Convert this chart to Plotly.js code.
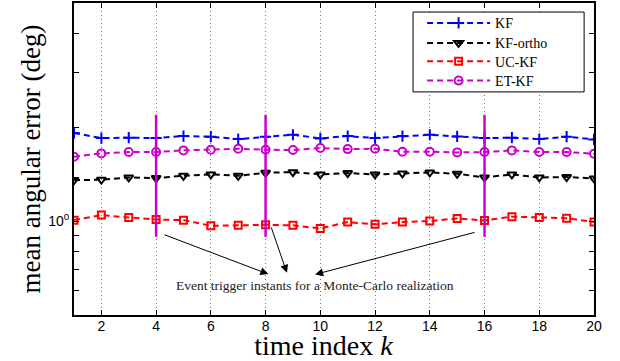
<!DOCTYPE html>
<html>
<head>
<meta charset="utf-8">
<script src="https://cdn.plot.ly/plotly-3.0.1.min.js"></script>
<style>html,body{margin:0;padding:0;background:#fff;}#chart{width:620px;height:361px;}</style>
</head>
<body>
<div id="chart"></div>
<script>
const timeIndex = [1,2,3,4,5,6,7,8,9,10,11,12,13,14,15,16,17,18,19,20];
const kf = [1.915,1.845,1.850,1.845,1.873,1.864,1.831,1.864,1.891,1.841,1.873,1.845,1.873,1.891,1.868,1.845,1.850,1.831,1.864,1.827];
const kfOrtho = [1.353,1.357,1.380,1.374,1.397,1.411,1.397,1.428,1.435,1.411,1.425,1.411,1.421,1.432,1.418,1.380,1.411,1.380,1.384,1.370];
const ucKf = [1.007,1.045,1.027,1.012,1.007,0.966,0.969,0.973,0.969,0.947,0.993,0.976,0.993,1.000,1.020,1.005,1.033,1.027,1.022,0.993];
const etKf = [1.608,1.648,1.664,1.664,1.685,1.693,1.705,1.693,1.689,1.714,1.701,1.705,1.668,1.668,1.660,1.664,1.685,1.664,1.664,1.644];
const eventInstants = [4, 8, 16];
const eventRange = [0.89, 2.19];
const xTicks = [2,4,6,8,10,12,14,16,18,20];
const yTickVals = [0.5,0.6,0.7,0.8,0.9,1,2,3,4,5];
const yTickText = ['','','','','','10<sup>0</sup>','','','',''];
const seriesNames = ['KF','KF-ortho','UC-KF','ET-KF'];
const annotationText = 'Event trigger instants for a Monte-Carlo realization';

const serif = 'Liberation Serif, Times New Roman, serif';
const sans = 'Liberation Sans, Arial, sans-serif';
const MAG = '#cc00cc';
const dash = '6px,4px';

const evX = [], evY = [];
eventInstants.forEach(t => { evX.push(t, t, null); evY.push(eventRange[0], eventRange[1], null); });

const traces = [
  {x: timeIndex, y: kf, name: seriesNames[0], mode: 'lines+markers', legend: 'legend',
   line: {color: '#0000ff', width: 2, dash: dash},
   marker: {symbol: 'cross-thin-open', size: 8, color: '#0000ff', line: {width: 2, color: '#0000ff'}}},
  {x: timeIndex, y: kfOrtho, name: seriesNames[1], mode: 'lines+markers', legend: 'legend2',
   line: {color: '#000000', width: 2, dash: dash},
   marker: {symbol: 'triangle-down-open', size: 8, color: '#000000', line: {width: 2, color: '#000000'}}},
  {x: timeIndex, y: ucKf, name: seriesNames[2], mode: 'lines+markers', legend: 'legend3',
   line: {color: '#ff0000', width: 2, dash: dash},
   marker: {symbol: 'square-open', size: 7, color: '#ff0000', line: {width: 2, color: '#ff0000'}}},
  {x: timeIndex, y: etKf, name: seriesNames[3], mode: 'lines+markers', legend: 'legend4',
   line: {color: MAG, width: 2, dash: dash},
   marker: {symbol: 'circle-open', size: 8, color: MAG, line: {width: 2, color: MAG}}},
  {x: evX, y: evY, mode: 'lines', showlegend: false, hoverinfo: 'skip',
   line: {color: MAG, width: 2.5}}
];

const arrowStyle = {showarrow: true, arrowhead: 2, arrowsize: 1.6, arrowwidth: 1, arrowcolor: '#000',
  axref: 'x', ayref: 'y', xref: 'x', yref: 'y', text: ''};
const annotations = [
  Object.assign({}, arrowStyle, {x: 8.10, y: -0.170, ax: 4.25, ay: -0.042}),
  Object.assign({}, arrowStyle, {x: 8.78, y: -0.166, ax: 8.19, ay: -0.016}),
  Object.assign({}, arrowStyle, {x: 9.81, y: -0.171, ax: 15.69, ay: -0.035}),
  {x: 9.81, y: -0.205, xref: 'x', yref: 'y', text: annotationText, showarrow: false,
   font: {family: serif, size: 13.5, color: '#222'}}
];

function legendAt(py) {
  return {x: 0.6694, y: (315 - py) / 312, xanchor: 'left', yanchor: 'middle',
    bgcolor: 'rgba(0,0,0,0)', borderwidth: 0, itemwidth: 63,
    font: {family: serif, size: 14, color: '#000'}};
}

const layout = {
  width: 620, height: 361,
  margin: {l: 74, r: 26, t: 3, b: 46},
  paper_bgcolor: '#fff', plot_bgcolor: '#fff',
  showlegend: true,
  legend: legendAt(23.3),
  legend2: legendAt(43.3),
  legend3: legendAt(61.7),
  legend4: legendAt(81),
  shapes: [{type: 'rect', xref: 'paper', yref: 'paper', x0: 0.652, x1: 0.981, y0: 0.715, y1: 0.971,
    fillcolor: '#fff', line: {color: '#000', width: 1}, layer: 'above'}],
  xaxis: {range: [1, 20], tickvals: xTicks, ticks: 'inside', ticklen: 5, tickcolor: '#000',
    showline: true, linecolor: '#000', linewidth: 2, mirror: 'allticks',
    showgrid: true, gridcolor: '#777', griddash: '1px,3px', gridwidth: 1, zeroline: false,
    tickfont: {family: sans, size: 14, color: '#000'}, ticklabelstandoff: -3,
    title: {text: 'time index <i>k</i>&nbsp;&nbsp;&nbsp;', font: {family: serif, size: 28, color: '#000'}, standoff: 0}},
  yaxis: {type: 'log', range: [Math.log10(0.5), Math.log10(5)], tickvals: yTickVals, ticktext: yTickText,
    ticks: 'inside', ticklen: 5, tickcolor: '#000',
    showline: true, linecolor: '#000', linewidth: 2, mirror: 'allticks',
    showgrid: false, zeroline: false,
    tickfont: {family: sans, size: 14, color: '#000'},
    title: {text: 'mean angular error (deg)', font: {family: serif, size: 27, color: '#000'}, standoff: 0}},
  annotations: annotations
};

Plotly.newPlot('chart', traces, layout, {displayModeBar: false, staticPlot: true});
</script>
</body>
</html>
